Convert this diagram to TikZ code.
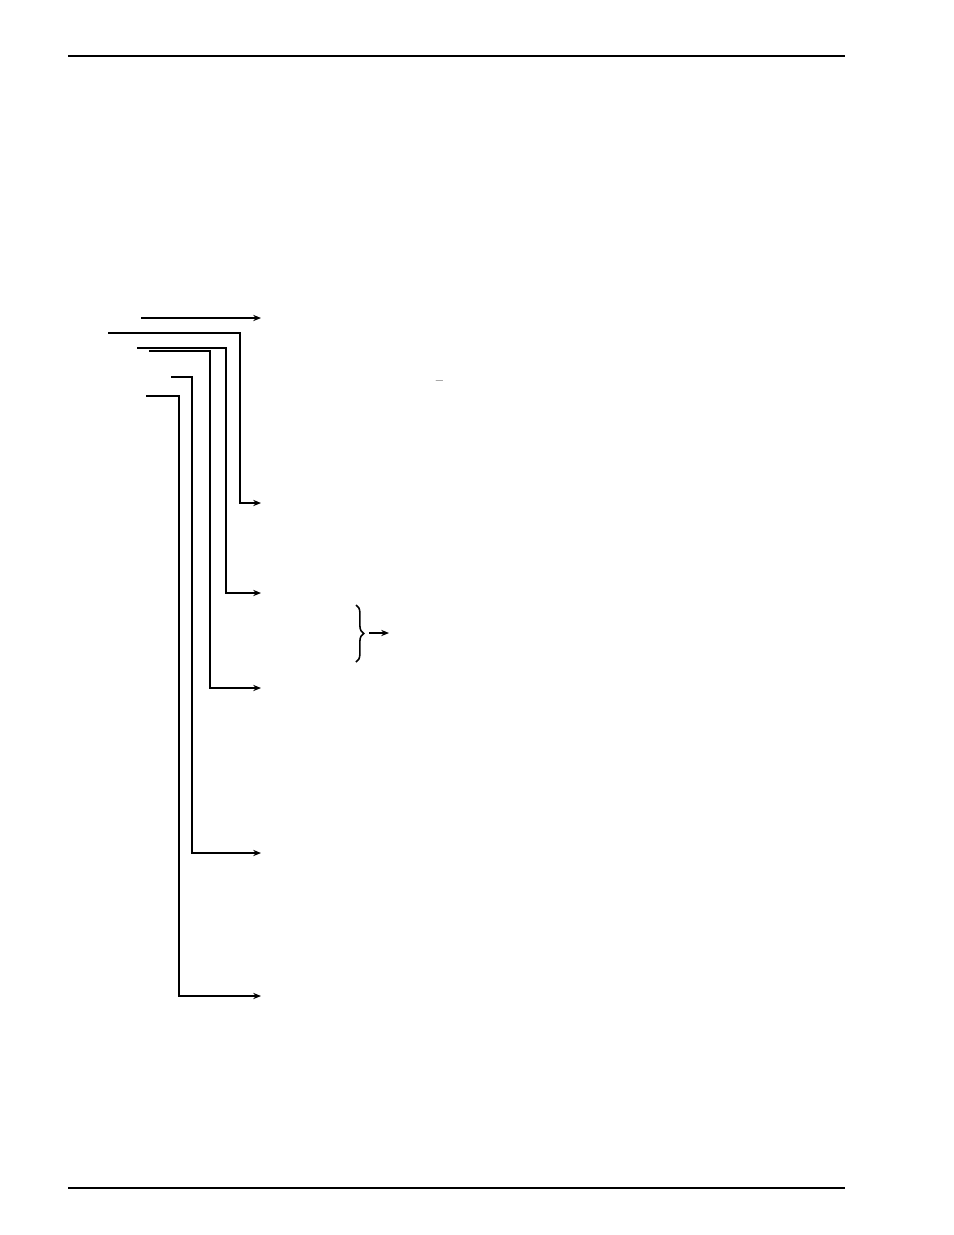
\documentclass[tikz,border=0pt]{standalone}
\usepackage{tikz}
\usetikzlibrary{arrows.meta, decorations.pathreplacing}

\begin{document}
\begin{tikzpicture}[
        x=0.642pt, y=-0.642pt,
        rule/.style={draw, line width=0.9pt},
        link/.style={draw, line width=1pt},
        feed/.style={draw, line width=0.7pt, -{Stealth[length=5pt, width=4pt]}},
        dashmark/.style={inner sep=0pt, font=\small},
      ]
      \useasboundingbox (0,0) rectangle (954,1235);
      % page rules
      \coordinate (headL) at (68,56);
      \coordinate (headR) at (845,56);
      \coordinate (footL) at (68,1188);
      \coordinate (footR) at (845,1188);
      \draw[rule] (headL) -- (headR);
      \draw[rule] (footL) -- (footR);
      % straight feed
      \coordinate (topIn) at (141,318);
      \coordinate (topOut) at (261,318);
      \draw[feed] (topIn) -- (topOut);
      % elbow feeds
      \coordinate (aIn) at (108,333);
      \coordinate (aOut) at (261,503);
      \coordinate (bIn) at (137,348);
      \coordinate (bOut) at (261,593);
      \coordinate (cIn) at (149,351);
      \coordinate (cOut) at (261,688);
      \coordinate (dIn) at (171,377);
      \coordinate (dOut) at (261,853);
      \coordinate (eIn) at (146,396);
      \coordinate (eOut) at (261,996);
      \draw[feed] (aIn) -- (240,333) |- (aOut);
      \draw[feed] (bIn) -- (226,348) |- (bOut);
      \draw[feed] (cIn) -- (210,351) |- (cOut);
      \draw[feed] (dIn) -- (192,377) |- (dOut);
      \draw[feed] (eIn) -- (179,396) |- (eOut);
      % brace
      \coordinate (braceTop) at (356,605);
      \coordinate (braceBot) at (356,662);
      \draw[link, decorate, decoration={brace, amplitude=5pt}] (braceTop) -- (braceBot);
      \coordinate (braceTip) at (365,633);
      \coordinate (braceOut) at (389,633);
      \draw[feed] (braceTip) ++(4,0) -- (braceOut);
      \node[dashmark] (dash) at (439.5,383) {--};
      \end{tikzpicture}
\end{document}
